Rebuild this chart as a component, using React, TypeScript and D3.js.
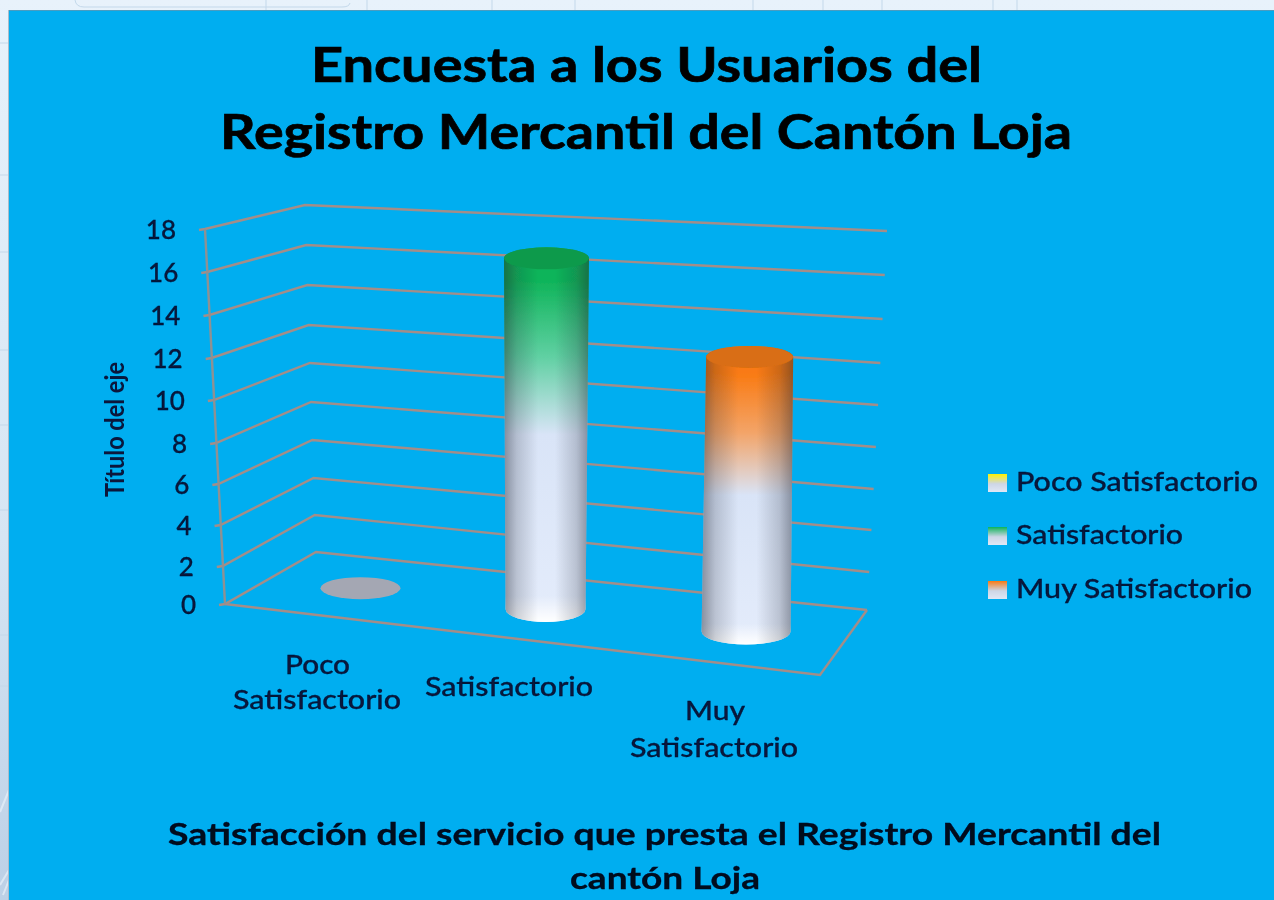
import React from "react";
import * as d3 from "d3";

const categories = ["Poco Satisfactorio", "Satisfactorio", "Muy Satisfactorio"];
const values = [0, 17, 13];
const seriesColors = ["#fff200", "#0fb45a", "#f97a12"];
const midColors = ["#fff9a0", "#5fd0a2", "#f3a468"];
const capColors = ["#a4a7b3", "#0b9a4c", "#d96e12"];
const ticks = d3.range(0, 20, 2);
const titleLines = ["Encuesta a los Usuarios del", "Registro Mercantil del Cantón Loja"];
const subtitleLines = ["Satisfacción del servicio que presta el Registro Mercantil del", "cantón Loja"];
const categoryLines = [["Poco", "Satisfactorio"], ["Satisfactorio"], ["Muy", "Satisfactorio"]];

// Perspective frame of the 3D chart
const front = { x: d3.scaleLinear().domain([0, 18]).range([225, 205]),
  y: d3.scaleLinear().domain(ticks).range([604, 566, 525, 484, 443, 400, 358, 315, 272, 229]) };
const back = { x: d3.scaleLinear().domain([0, 18]).range([316, 305]),
  y: d3.scaleLinear().domain(ticks).range([552, 515, 478, 440, 402, 363, 325, 285, 245, 205]) };
const right = { x: d3.scaleLinear().domain([0, 18]).range([867, 887]),
  y: d3.scaleLinear().domain(ticks).range([610, 572, 530, 489, 447, 405, 363, 319, 275, 231]) };
const frontRight = { x: 820, y: 675 };

// Position of each category across the floor
const floorU = d3.scaleLinear().domain([0, 1, 2]).range([0.157, 0.48, 0.83]);
const midLeft = { x: (front.x(0) + back.x(0)) / 2, y: (front.y(0) + back.y(0)) / 2 };
const midRight = { x: (frontRight.x + right.x(0)) / 2, y: (frontRight.y + right.y(0)) / 2 };
const floorX = d3.scaleLinear().domain([0, 1]).range([midLeft.x, midRight.x]);
const floorY = d3.scaleLinear().domain([0, 1]).range([midLeft.y, midRight.y]);
const heightAt = d3.scaleLinear().domain([0.157, 0.48, 0.83]).range([361, 372, 385]);
const lean = d3.scaleLinear().domain([0.48, 0.83]).range([1, 5]);
const radiusBase = d3.scaleLinear().domain([0.157, 0.48, 0.83]).range([40, 40, 44.5]);
const radiusTop = d3.scaleLinear().domain([0.157, 0.48, 0.83]).range([40, 42.5, 43.5]);
const frac = (v: number) => (front.y(0) - front.y(v)) / (front.y(0) - front.y(18));

const bgLinesX = [266, 367, 492, 575, 753, 823, 882, 993, 1017];
const bgLinesY = [43, 175, 252, 350, 425, 510, 635, 686];

const INK = "#07163a";
const GRID = "#a48d88";
const AXIS = "#8f9192";
const FONT = "Lato, 'Open Sans', sans-serif";

function FitText({ x, y, len, size, weight = 500, fill = INK, children, transform, bold = 0 }: any) {
  return (
    <text x={x} y={y} fontFamily={FONT} fontSize={size} fontWeight={weight} fill={fill}
      stroke={bold ? fill : "none"} strokeWidth={bold}
      textLength={len} lengthAdjust="spacingAndGlyphs" transform={transform}>{children}</text>
  );
}

function Cylinder({ i }: { i: number }) {
  const u = floorU(i);
  const v = values[i];
  const bx = floorX(u);
  const by = floorY(u);
  if (v === 0) {
    return <ellipse cx={bx} cy={by} rx={radiusBase(u)} ry={11} fill={capColors[i]} />;
  }
  const f = frac(v);
  const tx = bx + lean(u) * f;
  const ty = by - heightAt(u) * f;
  const rb = radiusBase(u);
  const rt = radiusTop(u);
  const ryb = 13;
  const ryt = 11;
  const body = `M${tx - rt},${ty} L${bx - rb},${by} A${rb},${ryb} 0 0 0 ${bx + rb},${by} L${tx + rt},${ty} A${rt},${ryt} 0 0 0 ${tx - rt},${ty} Z`;
  return (
    <g>
      <path d={body} fill={`url(#v${i})`} />
      <path d={body} fill="url(#glow)" />
      <path d={body} fill="url(#shade)" />
      <ellipse cx={tx} cy={ty} rx={rt} ry={ryt} fill={capColors[i]} />
    </g>
  );
}

export default function App() {
  return (
    <svg width={1274} height={900} viewBox="0 0 1274 900"
      style={{ position: "absolute", left: 0, top: 0, display: "block" }}>
      <defs>
        <filter id="soft" x="-2%" y="-2%" width="104%" height="104%">
          <feGaussianBlur stdDeviation="0.55" />
        </filter>
        <linearGradient id="page" x1="0" y1="0" x2="0" y2="1">
          <stop offset="0" stopColor="#e8f2fb" />
          <stop offset="0.6" stopColor="#d6e5f3" />
          <stop offset="1" stopColor="#bcd0e6" />
        </linearGradient>
        <linearGradient id="shade" x1="0" y1="0" x2="1" y2="0">
          <stop offset="0" stopColor="#1c2230" stopOpacity="0.45" />
          <stop offset="0.15" stopColor="#1c2230" stopOpacity="0.2" />
          <stop offset="0.4" stopColor="#1c2230" stopOpacity="0" />
          <stop offset="0.6" stopColor="#1c2230" stopOpacity="0" />
          <stop offset="0.85" stopColor="#1c2230" stopOpacity="0.2" />
          <stop offset="1" stopColor="#1c2230" stopOpacity="0.45" />
        </linearGradient>
        <linearGradient id="glow" x1="0" y1="0" x2="0" y2="1">
          <stop offset="0.93" stopColor="#ffffff" stopOpacity="0" />
          <stop offset="1" stopColor="#ffffff" stopOpacity="1" />
        </linearGradient>
        {seriesColors.map((c, i) => (
          <linearGradient key={c} id={`v${i}`} x1="0" y1="0" x2="0" y2="1">
            <stop offset="0" stopColor={c} />
            <stop offset="0.09" stopColor={c} />
            <stop offset="0.29" stopColor={midColors[i]} />
            <stop offset="0.5" stopColor="#d9e4f7" />
            <stop offset="1" stopColor="#e4ecfb" />
          </linearGradient>
        ))}
        {seriesColors.map((c, i) => (
          <linearGradient key={c} id={`s${i}`} x1="0" y1="0" x2="0" y2="1">
            <stop offset="0" stopColor={c} />
            <stop offset="0.55" stopColor="#cdd6e6" />
            <stop offset="1" stopColor="#e0e7f5" />
          </linearGradient>
        ))}
      </defs>

      <rect width={1274} height={900} fill="url(#page)" />
      {bgLinesX.map((x) => <line key={x} x1={x} x2={x} y1={0} y2={10} stroke="#c3d8ea" />)}
      {bgLinesY.map((y) => <line key={y} x1={0} x2={9} y1={y} y2={y} stroke="#c3d8ea" />)}
      <path d="M75,0 Q76,7 84,7 L342,7 Q349,7 350,3" fill="none" stroke="#c3d8ea" />
      <path d="M0,812 L9,790 M0,885 L9,870 M3,895 L9,880" stroke="#eef5fb" strokeOpacity={0.6} strokeWidth={2} fill="none" />

      <rect x={9} y={10} width={1265} height={890} fill="#00aef0" />
      <line x1={9} x2={1274} y1={10.5} y2={10.5} stroke="#4a9cc0" />
      <line x1={8.5} x2={8.5} y1={10} y2={900} stroke="#a9bccb" />

      <g filter="url(#soft)">
        <FitText x={311} y={82} len={671} size={48} weight={700} fill="#000" bold={0.7}>{titleLines[0]}</FitText>
        <FitText x={220} y={149} len={852} size={48} weight={700} fill="#000" bold={0.7}>{titleLines[1]}</FitText>

        {/* Walls and gridlines */}
        <g fill="none" stroke={GRID} strokeWidth={2.4}>
          {ticks.map((t) => (
            <polyline key={t} points={[
              [front.x(t) - 6, front.y(t) + 1],
              [front.x(t), front.y(t)],
              [back.x(t), back.y(t)],
              [right.x(t), right.y(t)],
            ].join(" ")} />
          ))}
          <polyline points={[
            [front.x(0), front.y(0)],
            [frontRight.x, frontRight.y],
            [right.x(0), right.y(0)],
          ].join(" ")} />
        </g>
        <line x1={front.x(0)} y1={front.y(0)} x2={front.x(18)} y2={front.y(18)} stroke={AXIS} strokeWidth={2.4} />

        {ticks.map((t) => (
          <text key={t} x={front.x(t) - 29} y={front.y(t) + 10} textAnchor="end"
            fontFamily={FONT} fontSize={26} fontWeight={500} fill={INK} stroke={INK} strokeWidth={0.3}>{t}</text>
        ))}

        <FitText x={0} y={0} len={135} size={26} weight={700} transform="translate(124,497) rotate(-90)">Título del eje</FitText>

        {categories.map((c, i) => <Cylinder key={c} i={i} />)}

        {/* Category labels */}
        <FitText x={285} y={674} len={65} size={26} bold={0.3}>{categoryLines[0][0]}</FitText>
        <FitText x={233} y={709} len={168} size={26} bold={0.3}>{categoryLines[0][1]}</FitText>
        <FitText x={425} y={696} len={168} size={26} bold={0.3}>{categoryLines[1][0]}</FitText>
        <FitText x={685} y={720} len={60} size={26} bold={0.3}>{categoryLines[2][0]}</FitText>
        <FitText x={630} y={757} len={168} size={26} bold={0.3}>{categoryLines[2][1]}</FitText>

        {/* Legend */}
        {categories.map((c, i) => {
          const ly = [491, 544, 598][i];
          const len = [242, 167, 236][i];
          return (
            <g key={c}>
              <rect x={988} y={ly - 17} width={19} height={18} fill={`url(#s${i})`} />
              <FitText x={1016} y={ly} len={len} size={26} bold={0.3}>{c}</FitText>
            </g>
          );
        })}

        <FitText x={168} y={845} len={993} size={30} weight={700} fill="#02081f" bold={0.3}>{subtitleLines[0]}</FitText>
        <FitText x={570} y={889} len={190} size={30} weight={700} fill="#02081f" bold={0.3}>{subtitleLines[1]}</FitText>
      </g>
    </svg>
  );
}
